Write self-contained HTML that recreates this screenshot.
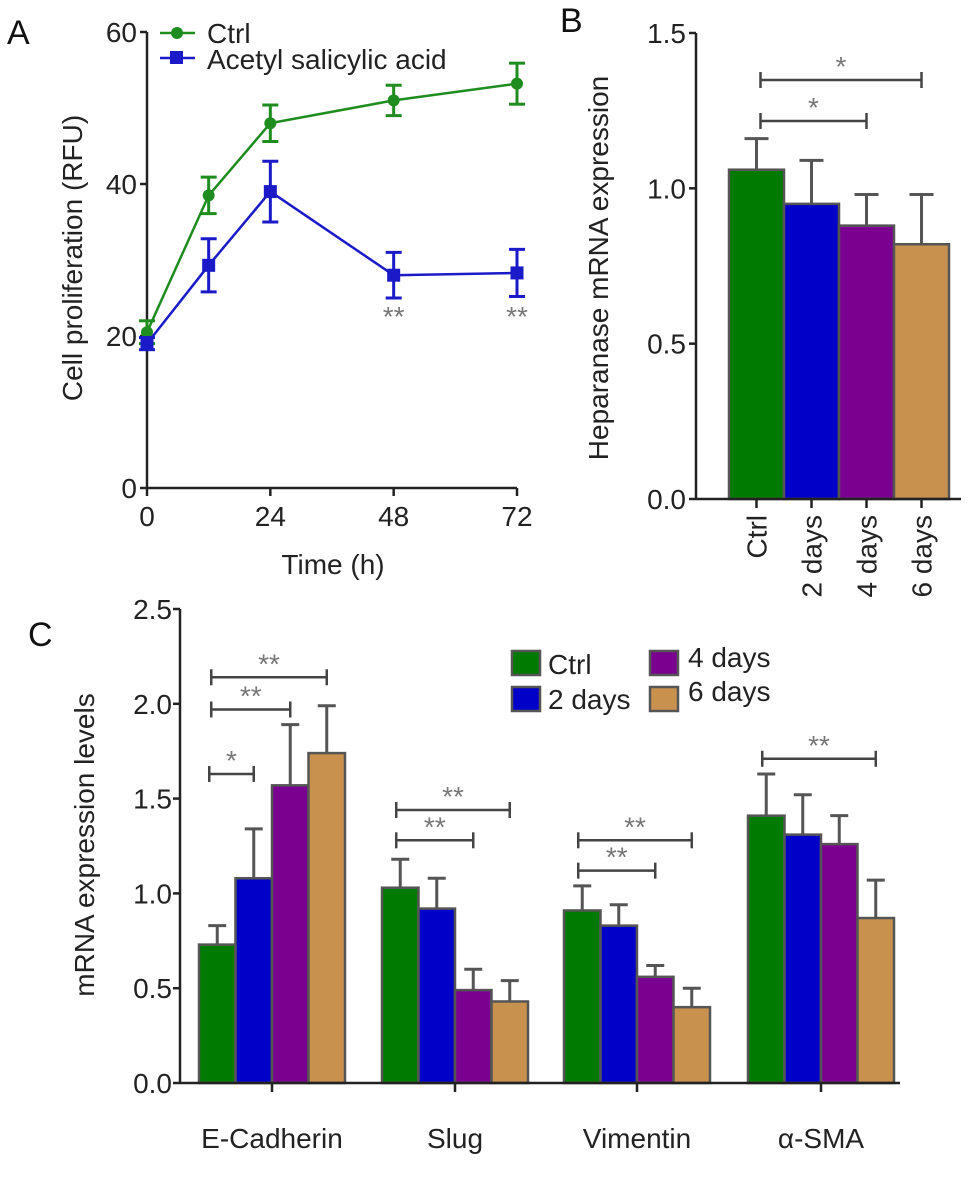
<!DOCTYPE html>
<html><head><meta charset="utf-8"><style>
html,body{margin:0;padding:0;background:#fff;}
svg{display:block;font-family:"Liberation Sans",Arial,sans-serif;}
</style></head><body>
<svg id="fig" width="969" height="1177" viewBox="0 0 969 1177" xmlns="http://www.w3.org/2000/svg"></svg>
<script>
// ---- Panel A data ----
const aTimes = [0, 12, 24, 48, 72];
const aCtrl = [20.5, 38.5, 48, 51, 53.2];
const aCtrlErr = [1.5, 2.4, 2.4, 2, 2.7];
const aAsa = [19, 29.3, 39, 28, 28.3];
const aAsaErr = [0.8, 3.5, 4, 3, 3.1];
const aYTicks = [0, 20, 40, 60];
const aXTicks = [0, 24, 48, 72];
// ---- Panel B data ----
const bCats = ["Ctrl", "2 days", "4 days", "6 days"];
const bVals = [1.06, 0.95, 0.88, 0.82];
const bErr = [0.10, 0.14, 0.10, 0.16];
const bYTicks = [0.0, 0.5, 1.0, 1.5];
// ---- Panel C data ----
const cGenes = ["E-Cadherin", "Slug", "Vimentin", "α-SMA"];
const cSeries = ["Ctrl", "2 days", "4 days", "6 days"];
const cCtrl = [0.73, 1.03, 0.91, 1.41];
const c2d = [1.08, 0.92, 0.83, 1.31];
const c4d = [1.57, 0.49, 0.56, 1.26];
const c6d = [1.74, 0.43, 0.40, 0.87];
const cCtrlErr = [0.10, 0.15, 0.13, 0.22];
const c2dErr = [0.26, 0.16, 0.11, 0.21];
const c4dErr = [0.32, 0.11, 0.06, 0.15];
const c6dErr = [0.25, 0.11, 0.10, 0.20];
const cYTicks = [0.0, 0.5, 1.0, 1.5, 2.0, 2.5];

const svg = document.getElementById('fig');
const NS = "http://www.w3.org/2000/svg";
function mk(tag, attrs, parent, text){
  const e = document.createElementNS(NS, tag);
  for (const k in attrs) e.setAttribute(k, attrs[k]);
  if (text !== undefined) e.textContent = text;
  (parent || svg).appendChild(e);
  return e;
}
const AX = "#222", EB = "#555", FS = 28;
const colors = ["#007a00", "#0000c8", "#7a0090", "#c8924e"];

// ================= Panel A =================
const gA = mk('g', {});


const ax0 = 147, ax1 = 517, ay0 = 488, ay1 = 32;
const axX = t => ax0 + (t / 72) * (ax1 - ax0);
const axY = v => ay0 - (v / 60) * (ay0 - ay1);
let t = mk('text', {x: 7, y: 44, 'font-size': 34, fill: '#111'}, gA, 'A');
 
let l = mk('line', {x1: ax0, y1: ay1, x2: ax0, y2: ay0, stroke: AX, 'stroke-width': 2.5}, gA);
 
l = mk('line', {x1: ax0, y1: ay0, x2: ax1, y2: ay0, stroke: AX, 'stroke-width': 2.5}, gA);
 
aYTicks.forEach(v => {
  mk('line', {x1: ax0 - 7, y1: axY(v), x2: ax0, y2: axY(v), stroke: AX, 'stroke-width': 2.5}, gA);
  const tx = mk('text', {x: ax0 - 10, y: axY(v) + 10, 'font-size': FS, 'text-anchor': 'end', fill: '#222'}, gA, String(v));
   
});
aXTicks.forEach(v => {
  mk('line', {x1: axX(v), y1: ay0, x2: axX(v), y2: ay0 + 8, stroke: AX, 'stroke-width': 2.5}, gA);
  const tx = mk('text', {x: axX(v), y: ay0 + 38, 'font-size': FS, 'text-anchor': 'middle', fill: '#222'}, gA, String(v));
   
});
t = mk('text', {x: 333, y: 574, 'font-size': FS, 'text-anchor': 'middle', fill: '#222'}, gA, 'Time (h)');
 
t = mk('text', {x: 0, y: 0, 'font-size': FS, 'text-anchor': 'middle', fill: '#222', transform: 'translate(82,258) rotate(-90)'}, gA, 'Cell proliferation (RFU)');
 

function drawSeries(vals, errs, color, marker, name){
  const g = mk('g', {}, gA);
  
  
  const pts = aTimes.map((tt, i) => axX(tt) + ',' + axY(vals[i])).join(' ');
  mk('polyline', {points: pts, fill: 'none', stroke: color, 'stroke-width': 2.5}, g);
  aTimes.forEach((tt, i) => {
    const x = axX(tt), yh = axY(vals[i] + errs[i]), yl = axY(vals[i] - errs[i]);
    mk('line', {x1: x, y1: yh, x2: x, y2: yl, stroke: color, 'stroke-width': 3}, g);
    mk('line', {x1: x - 8, y1: yh, x2: x + 8, y2: yh, stroke: color, 'stroke-width': 3}, g);
    mk('line', {x1: x - 8, y1: yl, x2: x + 8, y2: yl, stroke: color, 'stroke-width': 3}, g);
    let m;
    if (marker === 'circle') m = mk('circle', {cx: x, cy: axY(vals[i]), r: 6, fill: color}, g);
    else m = mk('rect', {x: x - 6.5, y: axY(vals[i]) - 6.5, width: 13, height: 13, fill: color}, g);
    
    
  });
}
drawSeries(aCtrl, aCtrlErr, '#1e8c1e', 'circle', 'ctrl-series');
drawSeries(aAsa, aAsaErr, '#1a1ac8', 'square', 'acetyl-series');
[48, 72].forEach(tt => {
  const s = mk('text', {x: axX(tt), y: 326, 'font-size': 28, 'text-anchor': 'middle', fill: '#777'}, gA, '**');
   
});
// legend
let lg = mk('g', {}, gA);
 
mk('line', {x1: 160, y1: 33, x2: 195, y2: 33, stroke: '#1e8c1e', 'stroke-width': 2.5}, lg);
mk('circle', {cx: 177, cy: 33, r: 6, fill: '#1e8c1e'}, lg);
t = mk('text', {x: 207, y: 43, 'font-size': FS, fill: '#222'}, lg, 'Ctrl');
 
mk('line', {x1: 160, y1: 58, x2: 195, y2: 58, stroke: '#1a1ac8', 'stroke-width': 2.5}, lg);
mk('rect', {x: 170, y: 51, width: 13, height: 13, fill: '#1a1ac8'}, lg);
t = mk('text', {x: 207, y: 69, 'font-size': FS, fill: '#222'}, lg, 'Acetyl salicylic acid');
 

// ================= Panel B =================
const gB = mk('g', {});
 
const bx0 = 696, bx1 = 961, by0 = 499, by1 = 33;
const bY = v => by0 - (v / 1.5) * (by0 - by1);
const bBarL = 729, bBarW = 55;
const bX = i => bBarL + i * bBarW;
t = mk('text', {x: 560, y: 32, 'font-size': 34, fill: '#111'}, gB, 'B');
 
bVals.forEach((v, i) => {
  const cx = bX(i) + bBarW / 2, yt = bY(v + bErr[i]);
  mk('line', {x1: cx, y1: bY(v), x2: cx, y2: yt, stroke: EB, 'stroke-width': 3}, gB);
  mk('line', {x1: cx - 12, y1: yt, x2: cx + 12, y2: yt, stroke: EB, 'stroke-width': 3}, gB);
  const r = mk('rect', {x: bX(i), y: bY(v), width: bBarW, height: by0 - bY(v), fill: colors[i], stroke: '#555', 'stroke-width': 2.5}, gB);
  
  
  mk('line', {x1: cx, y1: by0, x2: cx, y2: by0 + 9, stroke: AX, 'stroke-width': 2.5}, gB);
  const tx = mk('text', {x: 0, y: 0, 'font-size': FS, 'text-anchor': 'end', fill: '#222', transform: `translate(${cx + 10},${by0 + 16}) rotate(-90)`}, gB, bCats[i]);
   
});
l = mk('line', {x1: bx0, y1: by1, x2: bx0, y2: by0, stroke: AX, 'stroke-width': 2.5}, gB);
 
l = mk('line', {x1: bx0, y1: by0, x2: bx1, y2: by0, stroke: AX, 'stroke-width': 2.5}, gB);
 
bYTicks.forEach(v => {
  mk('line', {x1: bx0 - 7, y1: bY(v), x2: bx0, y2: bY(v), stroke: AX, 'stroke-width': 2.5}, gB);
  const tx = mk('text', {x: bx0 - 10, y: bY(v) + 10, 'font-size': FS, 'text-anchor': 'end', fill: '#222'}, gB, v.toFixed(1));
   
});
t = mk('text', {x: 0, y: 0, 'font-size': FS, 'text-anchor': 'middle', fill: '#222', transform: 'translate(608,268) rotate(-90)'}, gB, 'Heparanase mRNA expression');
 
function bracket(g, x1, x2, y, label, name){
  const bg = mk('g', {}, g);
   
  mk('line', {x1: x1, y1: y, x2: x2, y2: y, stroke: '#444', 'stroke-width': 2.5}, bg);
  mk('line', {x1: x1, y1: y - 8, x2: x1, y2: y + 8, stroke: '#444', 'stroke-width': 2.5}, bg);
  mk('line', {x1: x2, y1: y - 8, x2: x2, y2: y + 8, stroke: '#444', 'stroke-width': 2.5}, bg);
  mk('text', {x: (x1 + x2) / 2, y: y - 4, 'font-size': 28, 'text-anchor': 'middle', fill: '#777'}, bg, label);
}
bracket(gB, bX(0) + bBarW / 2 + 4, bX(3) + bBarW / 2, 80, '*', 'b-significance-ctrl-6days');
bracket(gB, bX(0) + bBarW / 2 + 4, bX(2) + bBarW / 2, 121, '*', 'b-significance-ctrl-4days');

// ================= Panel C =================
const gC = mk('g', {});
 
const cx0 = 180, cx1 = 900, cy0 = 1083, cy1 = 609;
const cY = v => cy0 - (v / 2.5) * (cy0 - cy1);
const groupStart = [199, 382, 564, 748], cBarW = 36.5;
const cBarX = (g, s) => groupStart[g] + s * cBarW;
t = mk('text', {x: 28, y: 646, 'font-size': 34, fill: '#111'}, gC, 'C');
 
const cVals = [cCtrl, c2d, c4d, c6d], cErrs = [cCtrlErr, c2dErr, c4dErr, c6dErr];
cGenes.forEach((gname, g) => {
  cVals.forEach((arr, s) => {
    const v = arr[g], e = cErrs[s][g], x = cBarX(g, s), cx = x + cBarW / 2, yt = cY(v + e);
    mk('line', {x1: cx, y1: cY(v), x2: cx, y2: yt, stroke: EB, 'stroke-width': 3}, gC);
    mk('line', {x1: cx - 9, y1: yt, x2: cx + 9, y2: yt, stroke: EB, 'stroke-width': 3}, gC);
    const r = mk('rect', {x: x, y: cY(v), width: cBarW, height: cy0 - cY(v), fill: colors[s], stroke: '#555', 'stroke-width': 2.5}, gC);
    
    
  });
  const mid = groupStart[g] + 2 * cBarW;
  mk('line', {x1: mid, y1: cy0, x2: mid, y2: cy0 + 9, stroke: AX, 'stroke-width': 2.5}, gC);
  const tx = mk('text', {x: mid, y: 1148, 'font-size': FS, 'text-anchor': 'middle', fill: '#222'}, gC, gname);
   
});
l = mk('line', {x1: cx0, y1: cy1, x2: cx0, y2: cy0, stroke: AX, 'stroke-width': 2.5}, gC);
 
l = mk('line', {x1: cx0, y1: cy0, x2: cx1, y2: cy0, stroke: AX, 'stroke-width': 2.5}, gC);
 
cYTicks.forEach(v => {
  mk('line', {x1: cx0 - 7, y1: cY(v), x2: cx0, y2: cY(v), stroke: AX, 'stroke-width': 2.5}, gC);
  const tx = mk('text', {x: cx0 - 8, y: cY(v) + 10, 'font-size': FS, 'text-anchor': 'end', fill: '#222'}, gC, v.toFixed(1));
   
});
t = mk('text', {x: 0, y: 0, 'font-size': FS, 'text-anchor': 'middle', fill: '#222', transform: 'translate(94,845) rotate(-90)'}, gC, 'mRNA expression levels');
 
const bc = (g, s) => cBarX(g, s) + cBarW / 2;
bracket(gC, bc(0,0) - 8, bc(0,1), cY(1.63), '*', 'c-sig-ecad-2d');
bracket(gC, bc(0,0) - 6, bc(0,2), cY(1.97), '**', 'c-sig-ecad-4d');
bracket(gC, bc(0,0) - 6, bc(0,3), cY(2.14), '**', 'c-sig-ecad-6d');
bracket(gC, bc(1,0) - 4, bc(1,2), cY(1.28), '**', 'c-sig-slug-4d');
bracket(gC, bc(1,0) - 4, bc(1,3), cY(1.44), '**', 'c-sig-slug-6d');
bracket(gC, bc(2,0) - 4, bc(2,2), cY(1.12), '**', 'c-sig-vim-4d');
bracket(gC, bc(2,0) - 4, bc(2,3), cY(1.28), '**', 'c-sig-vim-6d');
bracket(gC, bc(3,0) - 4, bc(3,3), cY(1.71), '**', 'c-sig-sma-6d');
// legend C
const legPos = [[512, 651], [512, 687], [650, 651], [650, 687]];
const legText = [[548, 674], [548, 709], [688, 667], [688, 701]];
cSeries.forEach((s, i) => {
  const lg2 = mk('g', {}, gC);
  
  
  mk('rect', {x: legPos[i][0], y: legPos[i][1], width: 28, height: 24, fill: colors[i], stroke: '#555', 'stroke-width': 2.5}, lg2);
  mk('text', {x: legText[i][0], y: legText[i][1], 'font-size': FS, fill: '#222'}, lg2, s);
});
</script>
</body></html>
